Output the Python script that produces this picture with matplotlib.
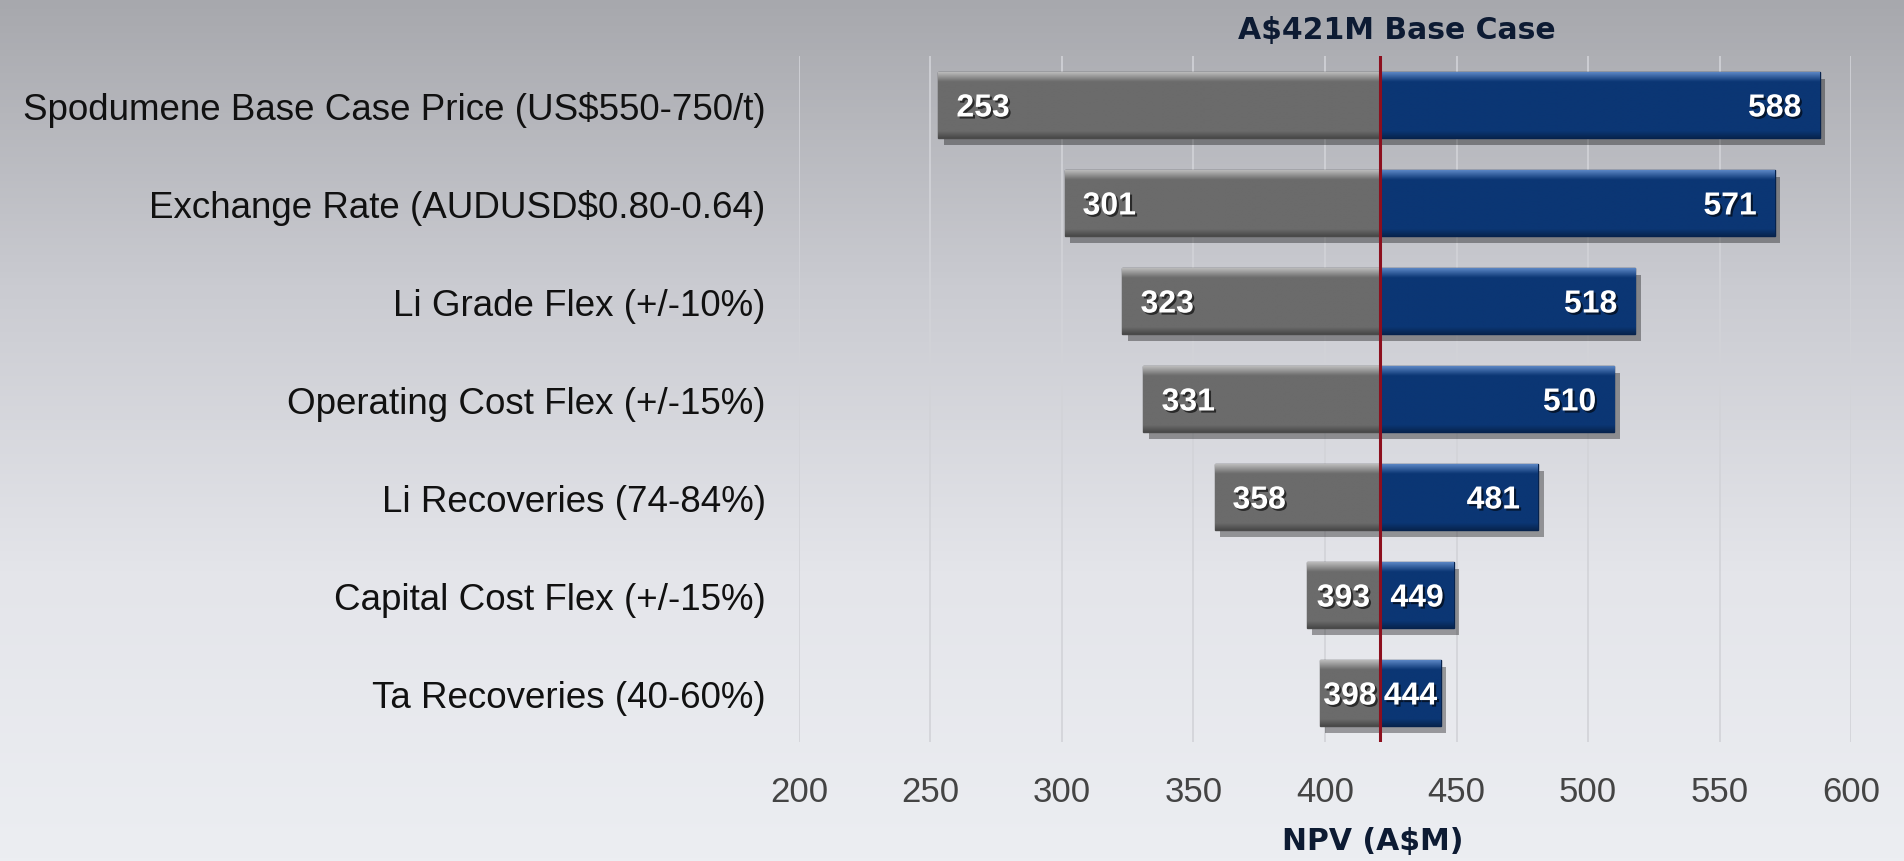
import matplotlib.pyplot as plt
import numpy as np
from matplotlib import patheffects as pe
from matplotlib.colors import LinearSegmentedColormap, to_rgb

# sensitivity data (NPV, A$M)
labels = [
    "Spodumene Base Case Price (US$550-750/t)",
    "Exchange Rate (AUDUSD$0.80-0.64)",
    "Li Grade Flex (+/-10%)",
    "Operating Cost Flex (+/-15%)",
    "Li Recoveries (74-84%)",
    "Capital Cost Flex (+/-15%)",
    "Ta Recoveries (40-60%)",
]
low_values = [253, 301, 323, 331, 358, 393, 398]
high_values = [588, 571, 518, 510, 481, 449, 444]
base_case = 421
x_ticks = [200, 250, 300, 350, 400, 450, 500, 550, 600]

plt.rcParams['font.family'] = ['Liberation Sans', 'DejaVu Sans']


def bevel_fill(ax, patch, color):
    """Paint a bar with a light top edge and a darker bottom edge"""
    base = np.array(to_rgb(color))
    light = np.clip(base + 0.3, 0, 1)
    dark = base * 0.7
    n = 60
    rows = np.zeros((n, 1, 3))
    for i in range(n):
        t = i / (n - 1)
        if t < 0.14:
            c = light + (base - light) * (t / 0.14)
        elif t > 0.9:
            c = base + (dark - base) * ((t - 0.9) / 0.1)
        else:
            c = base
        rows[i, 0] = c
    x0, y0 = patch.get_x(), patch.get_y()
    w, h = patch.get_width(), patch.get_height()
    im = ax.imshow(rows, extent=[x0, x0 + w, y0 + h, y0], origin='upper',
                   aspect='auto', interpolation='bilinear', zorder=3)
    im.set_clip_path(patch)


fig = plt.figure(figsize=(19.04, 8.62), dpi=100)

# background gradient
bg = fig.add_axes([0, 0, 1, 1], zorder=-10)
bg_cmap = LinearSegmentedColormap.from_list('bg', ['#a7a8ad', '#cacbd1', '#e4e5ea', '#eceef2'])
bg.imshow(np.linspace(0, 1, 256).reshape(-1, 1), aspect='auto', cmap=bg_cmap,
          extent=[0, 1, 0, 1], origin='upper')
bg.axis('off')

ax = fig.add_axes([0.4196, 0.138, 0.5526, 0.7959])
ax.patch.set_alpha(0)

y = np.arange(len(labels))
low = np.array(low_values)
high = np.array(high_values)
shadow = [pe.SimplePatchShadow(offset=(4, -5), shadow_rgbFace='black', alpha=0.35), pe.Normal()]

bars_low = ax.barh(y, base_case - low, left=low, height=0.67, color='#6b6b6b',
                   edgecolor='#4a4a4a', lw=1, zorder=2, path_effects=shadow)
bars_high = ax.barh(y, high - base_case, left=base_case, height=0.67, color='#0b3674',
                    edgecolor='#06224d', lw=1, zorder=2, path_effects=shadow)
for p in bars_low:
    bevel_fill(ax, p, '#6b6b6b')
for p in bars_high:
    bevel_fill(ax, p, '#0b3674')

txt_fx = [pe.SimplePatchShadow(offset=(1.5, -1.5), shadow_rgbFace='black', alpha=0.6), pe.Normal()]
for yi, lo, hi in zip(y, low_values, high_values):
    xl = lo + min(17, (base_case - lo) / 2)
    xh = hi - min(17, (hi - base_case) / 2)
    ax.text(xl, yi, str(lo), ha='center', va='center_baseline', color='white', fontsize=23,
            fontweight='bold', zorder=6, path_effects=txt_fx)
    ax.text(xh, yi, str(hi), ha='center', va='center_baseline', color='white', fontsize=23,
            fontweight='bold', zorder=6, path_effects=txt_fx)

ax.axvline(base_case, color='#8c0f1e', lw=2.2, zorder=5)

ax.set_xlim(200, 600)
ax.set_ylim(len(labels) - 0.5, -0.5)
ax.set_xticks(x_ticks)
ax.set_yticks(y)
ax.set_yticklabels(labels, fontsize=26.5, color='#111111')
ax.tick_params(axis='y', length=0, pad=24)
ax.tick_params(axis='x', length=0, pad=24, labelsize=25, labelcolor='#444444')
ax.grid(axis='x', color='#d2d3d8', lw=1.2)
ax.set_axisbelow(True)
for s in ax.spines.values():
    s.set_visible(False)

ax.set_title("A$421M Base Case", fontsize=21.5, fontweight='bold', color='#0d1b33',
             family='DejaVu Sans', x=0.568, pad=13)
ax.set_xlabel("NPV (A$M)", fontsize=21.5, fontweight='bold', color='#0d1b33',
              family='DejaVu Sans')
ax.xaxis.set_label_coords(0.545, -0.122)

fig.savefig("out.png", dpi=100)
